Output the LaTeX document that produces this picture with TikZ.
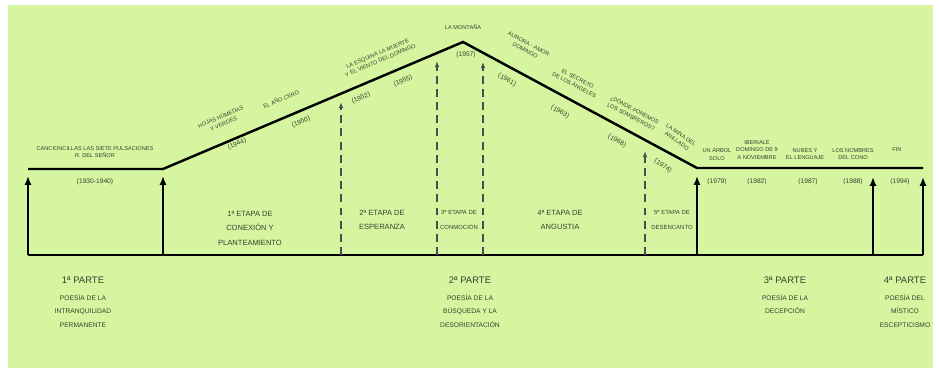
\documentclass[tikz,border=0pt]{standalone}
\usepackage{fontspec}
\setmainfont{Liberation Sans}
\usepackage{xcolor}
\usetikzlibrary{arrows.meta}
\definecolor{fondo}{RGB}{213,245,160}
\definecolor{texto}{RGB}{55,66,45}

\begin{document}
\begin{tikzpicture}[x=0.02cm, y=-0.02cm,
    obra/.style={font=\fontsize{3.2}{4.2}\selectfont, text=texto, align=center, inner sep=0pt},
    fecha/.style={font=\fontsize{3.8}{4.5}\selectfont, text=texto, inner sep=0pt},
    etapa/.style={font=\fontsize{4.3}{8.2}\selectfont, text=texto, align=center, inner sep=0pt},
    etapachica/.style={font=\fontsize{3.4}{8.2}\selectfont, text=texto, align=center, inner sep=0pt},
    parte/.style={font=\fontsize{5.4}{6}\selectfont, text=texto, inner sep=0pt},
    poesia/.style={font=\fontsize{3.8}{7.7}\selectfont, text=texto, align=center, inner sep=0pt},
    linea/.style={line width=1.4pt, black},
    flecha/.style={line width=1.4pt, black, -{Latex[length=5pt,width=4pt]}},
    guion/.style={line width=0.6pt, black!70, dash pattern=on 4.5pt off 3pt, -{Latex[length=3.5pt,width=2.6pt]}}]
    \useasboundingbox (0,0) rectangle (939,371);
    \fill[fondo] (8,5) rectangle (933,368);

    % Timeline
    \coordinate (ini) at (28,169);
    \coordinate (sube) at (163,169);
    \coordinate (cima) at (463,42);
    \coordinate (baja) at (697,168);
    \coordinate (fin) at (923,168);
    \draw[linea, line join=miter] (ini) -- (sube) -- (cima) -- (baja) -- (fin);

    % Base line
    \coordinate (base-a) at (28,255);
    \coordinate (base-b) at (163,255);
    \coordinate (base-c) at (341,255);
    \coordinate (base-d) at (437,255);
    \coordinate (base-e) at (483,255);
    \coordinate (base-f) at (645,255);
    \coordinate (base-g) at (697,255);
    \coordinate (base-h) at (873,255);
    \coordinate (base-i) at (923,255);
    \draw[linea] (base-a) -- (base-i);

    % Parts (solid arrows)
    \coordinate (tope-a) at (28,176);
    \coordinate (tope-b) at (163,176);
    \coordinate (tope-g) at (697,176);
    \coordinate (tope-h) at (873,177);
    \coordinate (tope-i) at (923,177);
    \draw[flecha] (base-a) -- (tope-a);
    \draw[flecha] (base-b) -- (tope-b);
    \draw[flecha] (base-g) -- (tope-g);
    \draw[flecha] (base-h) -- (tope-h);
    \draw[flecha] (base-i) -- (tope-i);

    % Stages (dashed arrows)
    \coordinate (tope-c) at (341,102);
    \coordinate (tope-d) at (437,61);
    \coordinate (tope-e) at (483,62);
    \coordinate (tope-f) at (645,151);
    \draw[guion] (base-c) -- (tope-c);
    \draw[guion] (base-d) -- (tope-d);
    \draw[guion] (base-e) -- (tope-e);
    \draw[guion] (base-f) -- (tope-f);

    % Works: first part
    \node[obra] (canc) at (95,152) {CANCIONCILLAS LAS SIETE PULSACIONES\\R. DEL SEÑOR};
    \node[fecha] (f1930) at (95,182) {(1930-1940)};

    % Works: rising line
    \node[obra, rotate=23] (hojas) at (222,120) {HOJAS HÚMEDAS\\Y VERDES};
    \node[fecha, rotate=23] (f1944) at (237,144) {(1944)};
    \node[obra, rotate=23] (cero) at (281,99) {EL AÑO CERO};
    \node[fecha, rotate=23] (f1950) at (301,122) {(1950)};
    \node[obra, rotate=23] (esquina) at (379,57) {LA ESQUINA LA MUERTE\\Y EL VIENTO DEL DOMINGO};
    \node[fecha, rotate=23] (f1952) at (361,98) {(1952)};
    \node[fecha, rotate=23] (f1955) at (403,81) {(1955)};
    \node[obra] (montana) at (463,27) {LA MONTAÑA};
    \node[fecha] (f1957) at (466,55) {(1957)};

    % Works: falling line
    \node[obra, rotate=-28] (aurora) at (527,47) {AURORA - AMOR\\DOMINGO};
    \node[fecha, rotate=-28] (f1961) at (507,80) {(1961)};
    \node[obra, rotate=-28] (secreto) at (576,82) {EL SECRETO\\DE LOS ÁNGELES};
    \node[fecha, rotate=-28] (f1963) at (560,112) {(1963)};
    \node[obra, rotate=-28] (donde) at (633,113) {¿DÓNDE PONEMOS\\LOS SOMBREROS?};
    \node[fecha, rotate=-28] (f1968) at (617,141) {(1968)};
    \node[obra, rotate=-35] (mina) at (679,138) {LA MINA DEL\\ANILLADO};
    \node[fecha, rotate=-35] (f1974) at (663,166) {(1974)};

    % Works: third and fourth part
    \node[obra] (arbol) at (717,154) {UN ÁRBOL\\SOLO};
    \node[fecha] (f1979) at (717,182) {(1979)};
    \node[obra] (iberia) at (757,150) {IBERIALE\\DOMINGO DE 9\\A NOVIEMBRE};
    \node[fecha] (f1982) at (757,182) {(1982)};
    \node[obra] (nubes) at (805,154) {NUBES Y\\EL LENGUAJE};
    \node[fecha] (f1987) at (808,182) {(1987)};
    \node[obra] (nombres) at (853,154) {LOS NOMBRES\\DEL CONO};
    \node[fecha] (f1988) at (853,182) {(1988)};
    \node[obra] (finobra) at (897,150) {FIN};
    \node[fecha] (f1994) at (900,182) {(1994)};

    % Stages
    \node[etapa] (etapa1) at (250,228) {1ª ETAPA DE\\CONEXIÓN Y\\PLANTEAMIENTO};
    \node[etapa] (etapa2) at (382,220) {2ª ETAPA DE\\ESPERANZA};
    \node[etapachica] (etapa3) at (459,220) {3ª ETAPA DE\\CONMOCIÓN};
    \node[etapa] (etapa4) at (560,220) {4ª ETAPA DE\\ANGUSTIA};
    \node[etapachica] (etapa5) at (672,220) {5ª ETAPA DE\\DESENCANTO};

    % Parts
    \node[parte] (parte1) at (83,280) {1ª PARTE};
    \node[poesia] (poesia1) at (83,311) {POESÍA DE LA\\INTRANQUILIDAD\\PERMANENTE};
    \node[parte] (parte2) at (470,280) {2ª PARTE};
    \node[poesia] (poesia2) at (470,311) {POESÍA DE LA\\BÚSQUEDA Y LA\\DESORIENTACIÓN};
    \node[parte] (parte3) at (785,280) {3ª PARTE};
    \node[poesia] (poesia3) at (785,304) {POESÍA DE LA\\DECEPCIÓN};
    \node[parte] (parte4) at (905,280) {4ª PARTE};
    \node[poesia] (poesia4) at (905,311) {POESÍA DEL\\MÍSTICO\\ESCEPTICISMO};
  \end{tikzpicture}
\end{document}
